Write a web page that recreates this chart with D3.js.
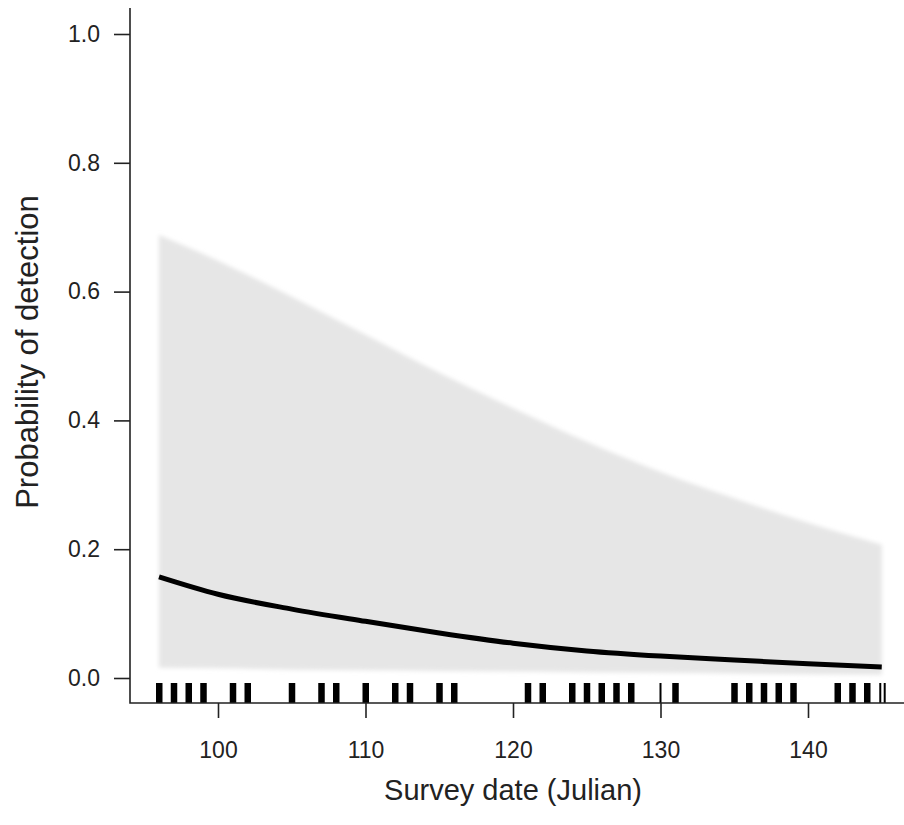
<!DOCTYPE html>
<html>
<head>
<meta charset="utf-8">
<script src="https://cdn.jsdelivr.net/npm/d3@7/dist/d3.min.js"></script>
<style>
  body { margin: 0; background: #fff; }
  text { font-family: "Liberation Sans", Arial, sans-serif; fill: #222; }
</style>
</head>
<body>
<svg id="chart" width="904" height="825"></svg>
<script>
// fitted curve and 95% band
var days = [96, 100, 105, 110, 115, 120, 125, 130, 135, 140, 145];
var fit = [0.157, 0.130, 0.107, 0.088, 0.070, 0.054, 0.042, 0.034, 0.028, 0.022, 0.017];
var upper = [0.688, 0.648, 0.592, 0.533, 0.474, 0.419, 0.367, 0.320, 0.279, 0.241, 0.207];
var lower = [0.016, 0.015, 0.013, 0.012, 0.011, 0.010, 0.009, 0.008, 0.007, 0.006, 0.005];

// survey dates (rug) and how many surveys fell on each
var rugDays = [96, 97, 98, 99, 101, 102, 105, 107, 108, 110, 112, 113, 115, 116,
    121, 122, 124, 125, 126, 127, 128, 130, 131, 135, 136, 137, 138, 139,
    142, 143, 144, 144.9, 145.2];
var rugCounts = [2, 2, 2, 2, 2, 2, 2, 2, 2, 2, 2, 2, 2, 2,
    2, 2, 2, 2, 2, 2, 2, 1, 2, 2, 2, 2, 2, 2,
    2, 2, 2, 1, 1];

var xTicks = [100, 110, 120, 130, 140];
var yTicks = [0, 0.2, 0.4, 0.6, 0.8, 1.0];

var svg = d3.select("#chart");

var x = d3.scaleLinear().domain([100, 140]).range([218, 808]);
var y = d3.scaleLinear().domain([0, 1]).range([678, 34]);

var left = 130, bottom = 703;

var defs = svg.append("defs");
defs.append("filter").attr("id", "soft")
    .attr("x", "-5%").attr("y", "-5%").attr("width", "110%").attr("height", "110%")
    .append("feGaussianBlur").attr("stdDeviation", 2);

var pts = days.map(function(d, i) {
    return { day: d, fit: fit[i], lo: lower[i], hi: upper[i] };
});

var band = d3.area()
    .x(function(d) { return x(d.day); })
    .y0(function(d) { return y(d.lo); })
    .y1(function(d) { return y(d.hi); })
    .curve(d3.curveMonotoneX);

svg.append("path")
    .datum(pts)
    .attr("d", band)
    .attr("fill", "#e6e6e6")
    .attr("filter", "url(#soft)");

var line = d3.line()
    .x(function(d) { return x(d.day); })
    .y(function(d) { return y(d.fit); })
    .curve(d3.curveMonotoneX);

svg.append("path")
    .datum(pts)
    .attr("d", line)
    .attr("fill", "none")
    .attr("stroke", "#000")
    .attr("stroke-width", 5);

// rug
svg.append("g").selectAll("rect")
    .data(rugDays)
    .enter().append("rect")
    .attr("x", function(d, i) { return x(d) - (rugCounts[i] > 1 ? 3 : 1); })
    .attr("width", function(d, i) { return rugCounts[i] > 1 ? 6.5 : 2; })
    .attr("y", 683)
    .attr("height", bottom - 683)
    .attr("fill", "#000");

// axes
var yAxis = d3.axisLeft(y).tickValues(yTicks).tickSize(16).tickPadding(14)
    .tickFormat(d3.format(".1f"));
var gy = svg.append("g").attr("transform", "translate(" + left + ",0)").call(yAxis);

var xAxis = d3.axisBottom(x).tickValues(xTicks).tickSize(15).tickPadding(24);
var gx = svg.append("g").attr("transform", "translate(0," + bottom + ")").call(xAxis);

[gx, gy].forEach(function(g) {
    g.select(".domain").remove();
    g.selectAll("line").attr("stroke", "#222").attr("stroke-width", 1.6);
    g.selectAll("text").attr("font-size", 23).attr("fill", "#2a2a2a")
        .style("font-family", "'Liberation Sans', Arial, sans-serif");
});

// L-shaped frame
svg.append("path")
    .attr("d", "M" + left + ",8V" + bottom + "H904")
    .attr("fill", "none")
    .attr("stroke", "#222")
    .attr("stroke-width", 1.6);

svg.append("text")
    .attr("x", 513)
    .attr("y", 800)
    .attr("text-anchor", "middle")
    .attr("font-size", 29)
    .attr("fill", "#2a2a2a")
    .text("Survey date (Julian)");

svg.append("text")
    .attr("transform", "translate(38,352) rotate(-90)")
    .attr("text-anchor", "middle")
    .attr("font-size", 31)
    .attr("fill", "#2a2a2a")
    .text("Probability of detection");
</script>
</body>
</html>
